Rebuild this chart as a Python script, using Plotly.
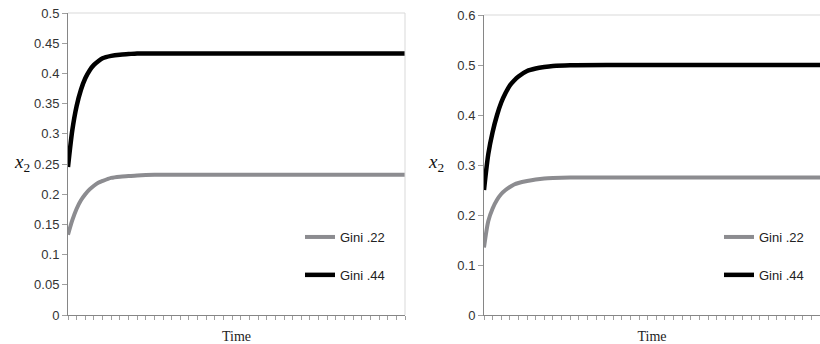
import plotly.graph_objects as go

# ---- data ----
t = [0, 0.5, 1, 1.5, 2, 2.5, 3, 3.5, 4, 5, 6, 7, 8, 10, 15, 20, 25, 30, 35, 39]

left_gini22 = [0.133, 0.157, 0.176, 0.190, 0.200, 0.208, 0.214, 0.219, 0.222, 0.227, 0.229, 0.230, 0.231, 0.232,
               0.232, 0.232, 0.232, 0.232, 0.232, 0.232]
left_gini44 = [0.245, 0.306, 0.346, 0.373, 0.392, 0.405, 0.414, 0.420, 0.425, 0.429, 0.431, 0.432, 0.433, 0.433,
               0.433, 0.433, 0.433, 0.433, 0.433, 0.433]

right_gini22 = [0.135, 0.188, 0.213, 0.230, 0.242, 0.250, 0.256, 0.261, 0.264, 0.268, 0.271, 0.273, 0.274, 0.275,
                0.275, 0.275, 0.275, 0.275, 0.275, 0.275]
right_gini44 = [0.250, 0.322, 0.366, 0.399, 0.425, 0.444, 0.459, 0.469, 0.477, 0.488, 0.493, 0.496, 0.498, 0.4995,
                0.5, 0.5, 0.5, 0.5, 0.5, 0.5]

names = ["Gini .22", "Gini .44"]
left_ticks = [0, 0.05, 0.1, 0.15, 0.2, 0.25, 0.3, 0.35, 0.4, 0.45, 0.5]
left_ticktext = ["0", "0.05", "0.1", "0.15", "0.2", "0.25", "0.3", "0.35", "0.4", "0.45", "0.5"]
right_ticks = [0, 0.1, 0.2, 0.3, 0.4, 0.5, 0.6]
right_ticktext = ["0", "0.1", "0.2", "0.3", "0.4", "0.5", "0.6"]
x_title = "Time"

GRAY = "#8c8c90"
BLACK = "#000000"
SANS = "Liberation Sans, Arial, sans-serif"
SERIF = "Liberation Serif, Times New Roman, serif"

fig = go.Figure()
fig.add_trace(go.Scatter(x=t, y=left_gini22, mode="lines", name=names[0], line=dict(color=GRAY, width=4, shape="spline", smoothing=0.8),
                         xaxis="x", yaxis="y", legend="legend", legendgroup="a"))
fig.add_trace(go.Scatter(x=t, y=left_gini44, mode="lines", name=names[1], line=dict(color=BLACK, width=4.5, shape="spline", smoothing=0.8),
                         xaxis="x", yaxis="y", legend="legend", legendgroup="b"))
fig.add_trace(go.Scatter(x=t, y=right_gini22, mode="lines", name=names[0], line=dict(color=GRAY, width=4, shape="spline", smoothing=0.8),
                         xaxis="x2", yaxis="y2", legend="legend2", legendgroup="c"))
fig.add_trace(go.Scatter(x=t, y=right_gini44, mode="lines", name=names[1], line=dict(color=BLACK, width=4.5, shape="spline", smoothing=0.8),
                         xaxis="x2", yaxis="y2", legend="legend2", legendgroup="d"))

W, H = 820, 344
B = 29
PH = H - B

def px_x(p):
    return p / W

def px_y(p):
    return (PH - p) / PH

axis_common = dict(showgrid=False, zeroline=False, showline=True, linecolor="#868686", linewidth=1,
                   ticks="outside", tickcolor="#a0a0a0", fixedrange=True, automargin=False)

xcommon = dict(axis_common, range=[0, 39], tickmode="linear", tick0=0, dtick=1, ticklen=4,
               showticklabels=False,
               title=dict(text=x_title, font=dict(family=SERIF, size=14, color="#222"), standoff=12))
ycommon = dict(axis_common, ticklen=5, tickfont=dict(family=SANS, size=13, color="#333"))

legend_common = dict(font=dict(family=SANS, size=13, color="#222"), bgcolor="rgba(0,0,0,0)",
                     traceorder="grouped", tracegroupgap=18, xanchor="left", yanchor="top")

fig.update_layout(
    width=W, height=H,
    margin=dict(l=0, r=0, t=0, b=B, autoexpand=False),
    paper_bgcolor="white", plot_bgcolor="white",
    xaxis=dict(xcommon, domain=[px_x(68), px_x(405)], anchor="y"),
    yaxis=dict(ycommon, domain=[0, px_y(13)], range=[0, 0.5], tickvals=left_ticks, ticktext=left_ticktext, anchor="x"),
    xaxis2=dict(xcommon, domain=[px_x(484), 1.0], anchor="y2"),
    yaxis2=dict(ycommon, domain=[0, px_y(15)], range=[0, 0.6], tickvals=right_ticks, ticktext=right_ticktext, anchor="x2"),
    legend=dict(legend_common, x=px_x(300), y=px_y(222)),
    legend2=dict(legend_common, x=px_x(719), y=px_y(222)),
    showlegend=True,
    shapes=[
        dict(type="line", xref="x domain", yref="y domain", x0=0, x1=1, y0=1, y1=1, line=dict(color="#d9d9d9", width=1)),
        dict(type="line", xref="x domain", yref="y domain", x0=1, x1=1, y0=0, y1=1, line=dict(color="#d9d9d9", width=1)),
        dict(type="line", xref="x2 domain", yref="y2 domain", x0=0, x1=1, y0=1, y1=1, line=dict(color="#d9d9d9", width=1)),
    ],
    annotations=[
        dict(text="<i>x</i><sub>2</sub>", x=px_x(12), y=px_y(163), xref="paper", yref="paper", showarrow=False,
             font=dict(family=SERIF, size=19, color="#111")),
        dict(text="<i>x</i><sub>2</sub>", x=px_x(436), y=px_y(163), xref="paper", yref="paper", showarrow=False,
             font=dict(family=SERIF, size=19, color="#111")),
    ],
)

fig.write_html("out.html", config={"displayModeBar": False},
               post_script="document.body.style.margin='0';document.body.style.overflow='hidden';")
